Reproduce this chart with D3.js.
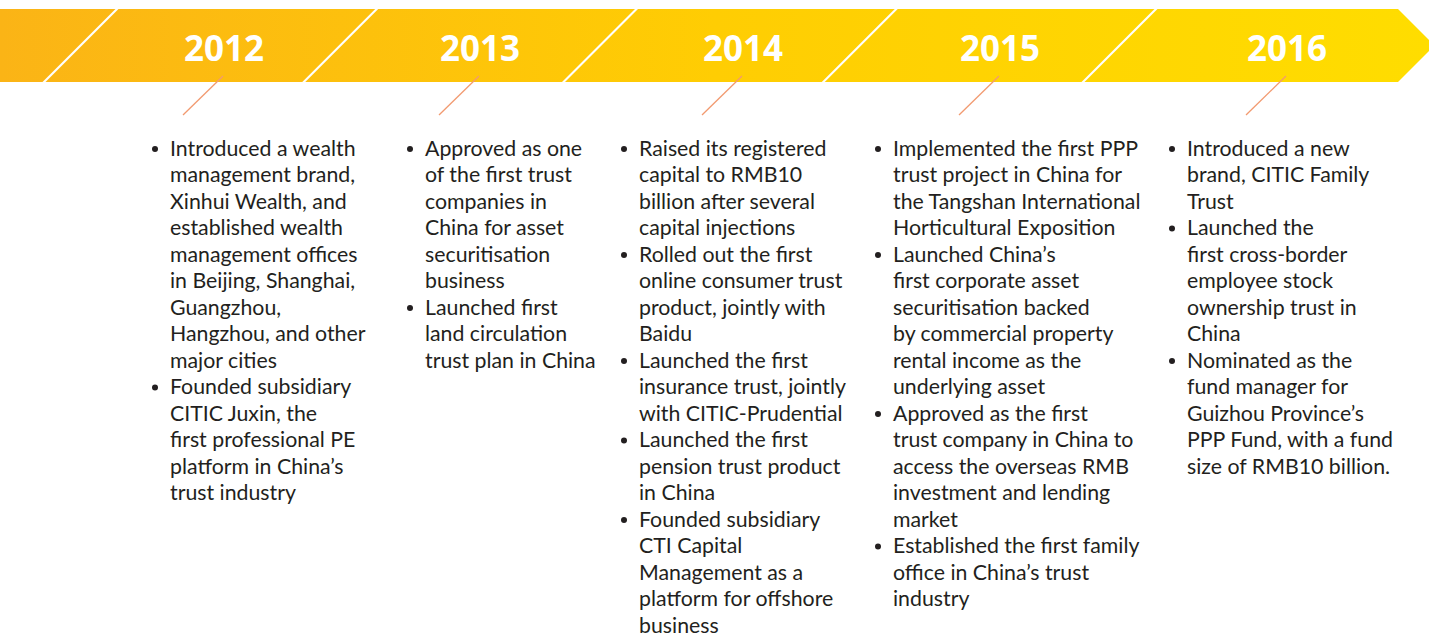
<!DOCTYPE html>
<html>
<head>
<meta charset="utf-8"/>
<script src="https://d3js.org/d3.v7.min.js"></script>
<style>
  * { margin: 0; padding: 0; }
  body { background: #fff; width: 1429px; height: 637px; overflow: hidden; }
  .item { font-family: "Lato", "Open Sans", sans-serif; font-size: 21.3px; fill: #231f20; }
  .year { font-family: "Open Sans", sans-serif; font-weight: 700; font-size: 35px; fill: #fff; }
</style>
</head>
<body>
<div id="chart"></div>
<script>
// timeline data
const years = ["2012", "2013", "2014", "2015", "2016"];

const items2012 = [
  ["Introduced a wealth", "management brand,", "Xinhui Wealth, and", "established wealth",
   "management offices", "in Beijing, Shanghai,", "Guangzhou,", "Hangzhou, and other", "major cities"],
  ["Founded subsidiary", "CITIC Juxin, the", "first professional PE", "platform in China’s", "trust industry"]
];
const items2013 = [
  ["Approved as one", "of the first trust", "companies in", "China for asset", "securitisation", "business"],
  ["Launched first", "land circulation", "trust plan in China"]
];
const items2014 = [
  ["Raised its registered", "capital to RMB10", "billion after several", "capital injections"],
  ["Rolled out the first", "online consumer trust", "product, jointly with", "Baidu"],
  ["Launched the first", "insurance trust, jointly", "with CITIC-Prudential"],
  ["Launched the first", "pension trust product", "in China"],
  ["Founded subsidiary", "CTI Capital", "Management as a", "platform for offshore", "business"]
];
const items2015 = [
  ["Implemented the first PPP", "trust project in China for", "the Tangshan International", "Horticultural Exposition"],
  ["Launched China’s", "first corporate asset", "securitisation backed", "by commercial property", "rental income as the", "underlying asset"],
  ["Approved as the first", "trust company in China to", "access the overseas RMB", "investment and lending", "market"],
  ["Established the first family", "office in China’s trust", "industry"]
];
const items2016 = [
  ["Introduced a new", "brand, CITIC Family", "Trust"],
  ["Launched the", "first cross-border", "employee stock", "ownership trust in", "China"],
  ["Nominated as the", "fund manager for", "Guizhou Province’s", "PPP Fund, with a fund", "size of RMB10 billion."]
];
const itemsByYear = [items2012, items2013, items2014, items2015, items2016];

// layout
const width = 1429, height = 637;
const bandTop = 9, bandBottom = 82, arrowStart = 1398;
const lineHeight = 26.5, firstBaseline = 155.5;

const svg = d3.select("#chart").append("svg")
  .attr("width", width).attr("height", height);

const grad = svg.append("defs").append("linearGradient")
  .attr("id", "band-grad")
  .attr("gradientUnits", "userSpaceOnUse")
  .attr("x1", 0).attr("x2", width).attr("y1", 0).attr("y2", 0);
grad.append("stop").attr("offset", 0).attr("stop-color", "#fbb416");
grad.append("stop").attr("offset", 0.5).attr("stop-color", "#ffcd03");
grad.append("stop").attr("offset", 1).attr("stop-color", "#ffdd00");

const bandMid = (bandTop + bandBottom) / 2;
svg.append("path")
  .attr("d", `M0,${bandTop}H${arrowStart}L${arrowStart + (bandBottom - bandTop) / 2},${bandMid}L${arrowStart},${bandBottom}H0Z`)
  .attr("fill", "url(#band-grad)");

// slanted white dividers
const slant = 75;
const divX = d3.scaleLinear().domain([0, 4]).range([118, 1157]);
svg.selectAll(".divider").data(d3.range(5)).join("line")
  .attr("class", "divider")
  .attr("x1", d => divX(d)).attr("y1", bandTop - 1)
  .attr("x2", d => divX(d) - slant).attr("y2", bandBottom + 1)
  .attr("stroke", "#fff").attr("stroke-width", 2.2);

// year label centres and text column positions
const yearX = d3.scaleOrdinal().domain(years).range([224, 480, 743, 1000, 1287]);
const textX = d3.scaleOrdinal().domain(years).range([170, 425, 639, 893, 1187]);

svg.selectAll(".year").data(years).join("text")
  .attr("class", "year")
  .attr("x", d => yearX(d)).attr("y", 61)
  .attr("text-anchor", "middle")
  .text(d => d);

svg.selectAll(".connector").data(years).join("line")
  .attr("class", "connector")
  .attr("x1", d => yearX(d) - 1).attr("y1", 76)
  .attr("x2", d => yearX(d) - 41).attr("y2", 115)
  .attr("stroke", "#f29a70").attr("stroke-width", 1.3);

years.forEach((yr, i) => {
  const g = svg.append("g").attr("transform", `translate(${textX(yr)},0)`);
  let row = 0;
  itemsByYear[i].forEach(lines => {
    g.append("circle")
      .attr("cx", -15).attr("cy", firstBaseline + row * lineHeight - 6.5)
      .attr("r", 3).attr("fill", "#231f20");
    lines.forEach(t => {
      g.append("text").attr("class", "item")
        .attr("x", 0).attr("y", firstBaseline + row * lineHeight)
        .text(t);
      row++;
    });
  });
});
</script>
</body>
</html>
